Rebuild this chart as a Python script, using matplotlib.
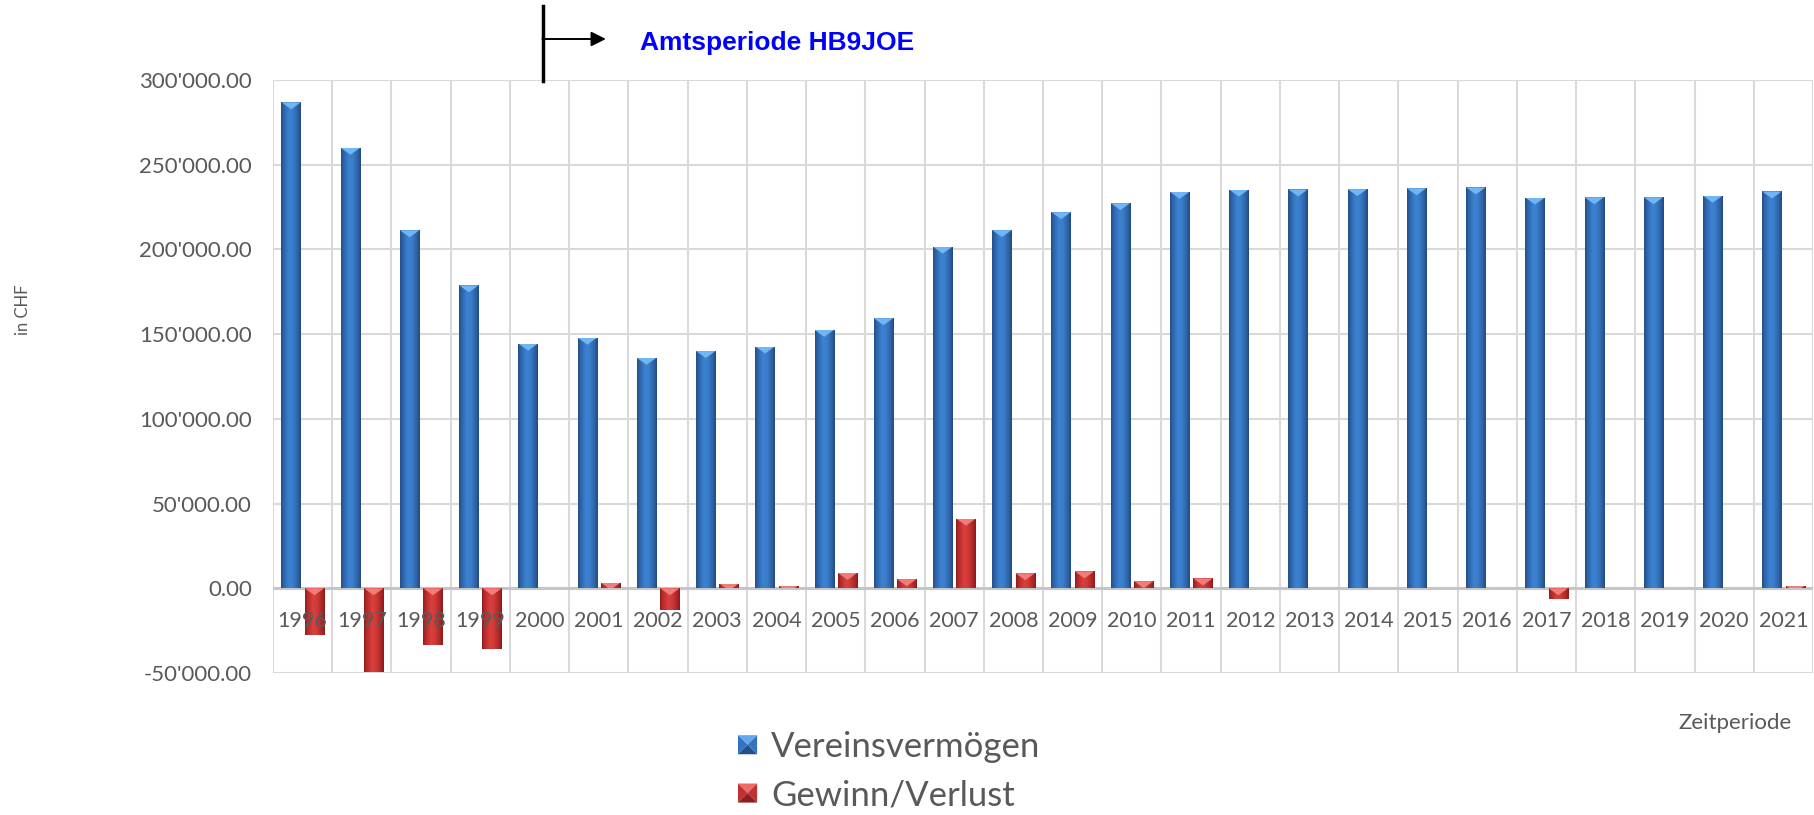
import numpy as np
import matplotlib
matplotlib.use("Agg")
import matplotlib.pyplot as plt
import matplotlib.transforms as mtransforms
from matplotlib.colors import LinearSegmentedColormap
from matplotlib.patches import Polygon, Rectangle
from matplotlib.lines import Line2D
from matplotlib.legend_handler import HandlerBase
from matplotlib.ticker import FixedLocator, FuncFormatter

# ---------------- data ----------------
years = ["1996", "1997", "1998", "1999", "2000", "2001", "2002", "2003", "2004",
         "2005", "2006", "2007", "2008", "2009", "2010", "2011", "2012", "2013",
         "2014", "2015", "2016", "2017", "2018", "2019", "2020", "2021"]
vereinsvermoegen = [286800, 260000, 211300, 178800, 144400, 147900, 136000, 140000,
                    142700, 152500, 159400, 201600, 211400, 222000, 227300, 234000,
                    235300, 235400, 235600, 236100, 236600, 230600, 230800, 230800,
                    231700, 234200]
gewinn_verlust = [-27400, -49500, -33300, -35600, 0, 3300, -12800, 2800, 1600, 9100,
                  5400, 41100, 8900, 10000, 4200, 5800, 300, 0, 0, 0, 0, -6500, 0, 0,
                  200, 1600]
y_ticks = [-50000, 0, 50000, 100000, 150000, 200000, 250000, 300000]
series_labels = ["Vereinsvermögen", "Gewinn/Verlust"]
annotation_text = "Amtsperiode HB9JOE"

# ---------------- style ----------------
plt.rcParams["font.family"] = ["Lato", "DejaVu Sans"]
TXT = "#595959"
GRID = "#d9d9d9"

blue_cmap = LinearSegmentedColormap.from_list(
    "b", [(0, "#244d85"), (0.12, "#2d62a8"), (0.4, "#3b82d2"), (0.6, "#3a7ecb"),
          (0.88, "#2c5f9f"), (1, "#224880")])
red_cmap = LinearSegmentedColormap.from_list(
    "r", [(0, "#8e1e1e"), (0.12, "#b52a2a"), (0.4, "#d8403e"), (0.6, "#d23a38"),
          (0.88, "#a82525"), (1, "#861c1c")])
BLUE_MID, BLUE_LIGHT = "#3574c0", "#6fb6f2"
RED_MID, RED_LIGHT = "#c83232", "#f27c7a"

W, H = 1814, 815
fig = plt.figure(figsize=(W / 100, H / 100), dpi=100)
ax = fig.add_axes([273 / W, 1 - 673 / H, (1813 - 273) / W, (673 - 80) / H])

n = len(years)
x = np.arange(n)
bw = 0.327
ymin, ymax = -50000, 300000
ax.set_xlim(-0.5, n - 0.5)
ax.set_ylim(ymin, ymax)

bars_v = ax.bar(x - 0.193, vereinsvermoegen, bw, color=BLUE_MID, lw=0, zorder=2)
bars_g = ax.bar(x + 0.2, gewinn_verlust, bw, color=RED_MID, lw=0, zorder=2)

px_per_y = ax.bbox.height / (ymax - ymin)
px_per_x = ax.bbox.width / n
grad = np.linspace(0, 1, 64).reshape(1, -1)


def decorate(bars, cmap, light):
    for p in bars:
        x0, wd = p.get_x(), p.get_width()
        y0, h = p.get_y(), p.get_height()
        lo, hi = min(y0, y0 + h), max(y0, y0 + h)
        if hi - lo <= 0:
            continue
        im = ax.imshow(grad, cmap=cmap, extent=[x0, x0 + wd, lo, hi], aspect="auto",
                       zorder=2.1, interpolation="bilinear")
        im.set_clip_path(p)
        depth = wd * px_per_x * 0.36 / px_per_y
        tri = Polygon([(x0, hi), (x0 + wd, hi), (x0 + wd / 2, hi - depth)], closed=True,
                      facecolor=light, lw=0, zorder=2.2)
        ax.add_patch(tri)
        tri.set_clip_path(p)


decorate(bars_v, blue_cmap, BLUE_LIGHT)
decorate(bars_g, red_cmap, RED_LIGHT)

ax.set_xlim(-0.5, n - 0.5)
ax.set_ylim(ymin, ymax)

# grid
for s in ax.spines.values():
    s.set_visible(False)
ax.set_axisbelow(True)
ax.yaxis.set_major_locator(FixedLocator(y_ticks))
ax.yaxis.set_major_formatter(FuncFormatter(lambda v, p: f"{v:,.2f}".replace(",", "'")))
ax.xaxis.set_major_locator(FixedLocator(np.arange(-0.5, n, 1.0)))
ax.xaxis.set_major_formatter(FuncFormatter(lambda v, p: ""))
ax.grid(True, which="major", axis="both", color=GRID, lw=1.5)
ax.tick_params(axis="both", length=0, labelcolor=TXT)
ax.tick_params(axis="y", labelsize=16, pad=15)
ax.axhline(0, color="#c6c6c6", lw=2.2, zorder=1.5)

for i, yr in enumerate(years):
    ax.annotate(yr, xy=(i, 0), xytext=(0, -23.8), textcoords="offset points",
                ha="center", va="center", fontsize=15.5, color=TXT, zorder=5)

# axis titles
fig.text(1735 / W, 1 - 723 / H, "Zeitperiode", ha="center", va="center",
         fontsize=16, color=TXT)
fig.text(23 / W, 1 - 310 / H, "in CHF", rotation=90, ha="center", va="center",
         fontsize=12, color=TXT)

# annotation
trans = mtransforms.blended_transform_factory(ax.transData, fig.transFigure)
line_x = 4.05
fig.add_artist(Line2D([line_x, line_x], [1 - 6 / H, 1 - 81 / H], transform=trans,
                      color="black", lw=2.5))
ax.annotate("", xy=(5.12, 1 - 39 / H), xytext=(line_x, 1 - 39 / H), xycoords=trans,
            textcoords=trans,
            arrowprops=dict(arrowstyle="-|>", color="black", lw=1.4, mutation_scale=22,
                            shrinkA=0, shrinkB=0), annotation_clip=False)
ax.text(5.7, 1 - 43 / H, annotation_text, transform=trans, family="Liberation Sans",
        fontweight="bold", fontsize=19, color="#0000ff", va="center", ha="left")


# legend
class BevelHandler(HandlerBase):
    def __init__(self, mid, light, dark):
        super().__init__()
        self.mid, self.light, self.dark = mid, light, dark

    def create_artists(self, legend, orig_handle, xdescent, ydescent, width, height,
                       fontsize, trans):
        s = min(width, height)
        x0 = -xdescent + (width - s) / 2
        y0 = -ydescent + (height - s) / 2
        c = (x0 + s / 2, y0 + s / 2)
        arts = [
            Polygon([(x0, y0 + s), (x0 + s, y0 + s), c], facecolor=self.light, lw=0),
            Polygon([(x0, y0), (x0, y0 + s), c], facecolor=self.mid, lw=0),
            Polygon([(x0 + s, y0), (x0 + s, y0 + s), c], facecolor=self.mid, lw=0),
            Polygon([(x0, y0), (x0 + s, y0), c], facecolor=self.dark, lw=0),
        ]
        for a in arts:
            a.set_transform(trans)
        return arts


h1 = Rectangle((0, 0), 1, 1)
h2 = Rectangle((0, 0), 1, 1)
leg = fig.legend([h1, h2], series_labels, loc="upper left",
                 bbox_to_anchor=(738 / W, 1 - 731 / H), frameon=False, fontsize=25,
                 handlelength=0.55, handleheight=0.55, handletextpad=0.4,
                 labelspacing=0.47, borderpad=0, borderaxespad=0,
                 handler_map={h1: BevelHandler("#3373c0", "#62aaea", "#22508e"),
                              h2: BevelHandler("#c43030", "#f06a6a", "#8e1e1e")})
for t in leg.get_texts():
    t.set_color(TXT)

fig.savefig("out.png", dpi=100)
